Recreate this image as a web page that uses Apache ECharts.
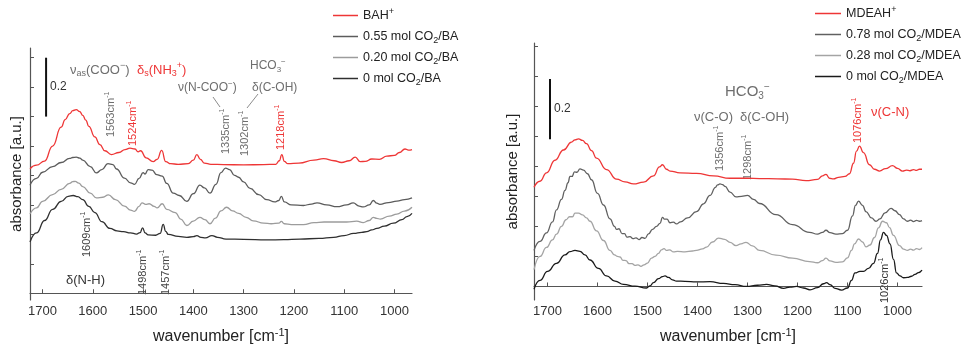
<!DOCTYPE html>
<html>
<head>
<meta charset="utf-8">
<script src="https://cdn.jsdelivr.net/npm/echarts@6/dist/echarts.min.js"></script>
<style>
  html, body { margin: 0; background: #fff; }
  #chart { width: 963px; height: 352px; }
</style>
</head>
<body>
<div id="chart"></div>
<script>
// tick positions (wavenumber and absorbance)
const xTicks = [1700, 1600, 1500, 1400, 1300, 1200, 1100, 1000];
const yTicks = [0, 0.1, 0.2, 0.3, 0.4, 0.5, 0.6, 0.7, 0.8];

// left panel: butylamine (BA) spectra, [wavenumber, absorbance]
const leftNames = ["BAH+", "0.55 mol CO2/BA", "0.20 mol CO2/BA", "0 mol CO2/BA"];
const bahSpec = [[1725,.423],[1712,.435],[1696,.449],[1680,.5],[1663,.564],[1655,.59],[1646,.61],[1640,.62],[1633,.624],[1626,.617],[1620,.604],[1614,.588],[1608,.567],[1596,.531],[1586,.505],[1576,.484],[1563,.471],[1548,.478],[1536,.488],[1526,.493],[1516,.49],[1510,.48],[1505,.484],[1494,.46],[1480,.447],[1472,.455],[1463,.485],[1455,.447],[1445,.44],[1430,.438],[1410,.44],[1400,.452],[1393,.471],[1386,.455],[1378,.442],[1365,.438],[1340,.437],[1300,.436],[1260,.437],[1236,.438],[1229,.45],[1224,.471],[1219,.448],[1212,.44],[1190,.442],[1160,.452],[1141,.457],[1120,.45],[1105,.444],[1090,.45],[1078,.462],[1068,.447],[1058,.448],[1045,.456],[1030,.455],[1015,.466],[1000,.468],[990,.478],[979,.49],[972,.486],[965,.488]];
const ba055Spec = [[1725,.367],[1712,.39],[1700,.411],[1680,.43],[1663,.444],[1646,.458],[1640,.461],[1633,.462],[1626,.459],[1620,.452],[1605,.43],[1593,.409],[1582,.42],[1570,.44],[1560,.437],[1553,.422],[1537,.391],[1525,.375],[1517,.37],[1508,.39],[1500,.41],[1496,.405],[1490,.42],[1482,.418],[1473,.403],[1462,.398],[1453,.373],[1440,.34],[1428,.332],[1413,.312],[1400,.338],[1387,.367],[1378,.358],[1367,.34],[1355,.37],[1345,.41],[1336,.425],[1328,.42],[1318,.4],[1310,.394],[1300,.378],[1287,.356],[1270,.335],[1254,.318],[1238,.31],[1230,.315],[1225,.329],[1219,.31],[1205,.3],[1181,.298],[1165,.303],[1154,.307],[1135,.3],[1114,.294],[1095,.3],[1082,.307],[1070,.296],[1062,.293],[1050,.3],[1042,.315],[1035,.306],[1029,.302],[1012,.308],[995,.313],[980,.318],[965,.324]];
const ba020Spec = [[1725,.269],[1712,.29],[1700,.312],[1680,.335],[1663,.353],[1646,.373],[1640,.379],[1635,.38],[1628,.374],[1620,.362],[1605,.34],[1593,.324],[1580,.326],[1569,.334],[1555,.318],[1537,.296],[1525,.282],[1517,.278],[1508,.295],[1502,.307],[1495,.302],[1488,.304],[1478,.295],[1472,.29],[1462,.304],[1453,.285],[1436,.274],[1425,.252],[1413,.23],[1400,.245],[1387,.258],[1377,.25],[1367,.236],[1356,.255],[1345,.28],[1334,.292],[1322,.28],[1310,.271],[1295,.258],[1281,.246],[1260,.238],[1245,.236],[1230,.238],[1225,.244],[1219,.236],[1205,.233],[1181,.233],[1160,.24],[1140,.242],[1115,.242],[1095,.242],[1075,.245],[1062,.24],[1050,.247],[1042,.258],[1035,.254],[1028,.252],[1010,.262],[995,.269],[980,.279],[965,.292]];
const ba0Spec = [[1725,.174],[1712,.205],[1696,.247],[1680,.285],[1663,.312],[1649,.329],[1639,.332],[1630,.328],[1620,.318],[1608,.295],[1596,.274],[1582,.243],[1566,.22],[1552,.212],[1539,.209],[1525,.205],[1513,.201],[1506,.206],[1501,.222],[1496,.205],[1490,.198],[1475,.197],[1466,.203],[1460,.234],[1455,.21],[1450,.2],[1430,.193],[1413,.19],[1400,.192],[1393,.196],[1385,.19],[1376,.188],[1363,.196],[1352,.19],[1335,.184],[1300,.183],[1254,.181],[1220,.182],[1188,.184],[1150,.186],[1121,.19],[1100,.196],[1081,.203],[1065,.207],[1055,.209],[1045,.215],[1035,.22],[1020,.228],[1002,.238],[985,.25],[975,.26],[965,.271]];

// right panel: MDEA spectra
const rightNames = ["MDEAH+", "0.78 mol CO2/MDEA", "0.28 mol CO2/MDEA", "0 mol CO2/MDEA"];
const mdeahSpec = [[1727,.33],[1715,.35],[1702,.378],[1685,.42],[1668,.454],[1652,.48],[1645,.488],[1638,.491],[1630,.486],[1622,.475],[1612,.452],[1602,.427],[1582,.389],[1562,.357],[1545,.348],[1528,.341],[1508,.347],[1488,.368],[1476,.398],[1470,.405],[1462,.39],[1455,.384],[1435,.378],[1402,.376],[1368,.368],[1335,.36],[1300,.36],[1276,.359],[1240,.358],[1210,.357],[1183,.352],[1160,.356],[1150,.368],[1143,.373],[1136,.36],[1128,.358],[1118,.363],[1105,.366],[1096,.375],[1088,.41],[1082,.45],[1076,.467],[1068,.445],[1056,.405],[1046,.39],[1036,.384],[1024,.392],[1010,.402],[1000,.393],[990,.384],[982,.387],[975,.385],[968,.389],[962,.386],[956,.39],[951,.39]];
const mdea078Spec = [[1727,.12],[1715,.15],[1702,.178],[1690,.215],[1682,.255],[1672,.29],[1665,.32],[1659,.345],[1655,.366],[1651,.366],[1646,.381],[1641,.38],[1635,.391],[1628,.387],[1620,.375],[1612,.355],[1600,.31],[1588,.271],[1575,.225],[1566,.2],[1562,.19],[1557,.192],[1551,.176],[1546,.176],[1541,.164],[1535,.166],[1529,.159],[1523,.162],[1517,.156],[1511,.163],[1505,.16],[1498,.175],[1490,.19],[1482,.2],[1475,.21],[1470,.23],[1466,.224],[1461,.224],[1455,.212],[1448,.214],[1442,.208],[1434,.215],[1420,.228],[1402,.249],[1388,.275],[1375,.303],[1364,.33],[1360,.338],[1355,.341],[1350,.339],[1345,.333],[1335,.314],[1323,.298],[1312,.3],[1300,.303],[1288,.29],[1276,.276],[1243,.239],[1210,.206],[1176,.18],[1160,.174],[1150,.18],[1143,.187],[1135,.179],[1123,.174],[1110,.176],[1100,.187],[1090,.235],[1084,.27],[1078,.284],[1070,.27],[1063,.249],[1052,.228],[1043,.217],[1035,.225],[1025,.245],[1013,.26],[1005,.252],[996,.239],[988,.225],[980,.217],[974,.221],[968,.216],[962,.22],[956,.217],[951,.219]];
const mdea028Spec = [[1727,.056],[1715,.1],[1702,.13],[1690,.155],[1682,.174],[1672,.2],[1663,.222],[1656,.232],[1650,.232],[1645,.244],[1638,.244],[1630,.238],[1622,.228],[1615,.217],[1602,.185],[1588,.153],[1575,.12],[1566,.105],[1560,.1],[1555,.098],[1549,.087],[1543,.086],[1537,.076],[1531,.076],[1525,.07],[1519,.072],[1513,.067],[1507,.072],[1500,.078],[1492,.094],[1485,.1],[1478,.11],[1472,.122],[1467,.126],[1462,.12],[1456,.122],[1448,.115],[1440,.117],[1425,.115],[1410,.118],[1402,.12],[1390,.125],[1382,.131],[1370,.148],[1358,.161],[1346,.157],[1335,.147],[1323,.136],[1313,.142],[1303,.147],[1290,.135],[1276,.12],[1243,.104],[1210,.094],[1176,.083],[1160,.079],[1150,.086],[1143,.094],[1135,.085],[1123,.08],[1110,.082],[1100,.095],[1092,.12],[1086,.142],[1078,.158],[1070,.148],[1063,.132],[1055,.138],[1046,.163],[1038,.195],[1030,.217],[1022,.212],[1016,.196],[1008,.17],[996,.136],[988,.124],[980,.12],[974,.124],[968,.121],[962,.126],[956,.123],[951,.129]];
const mdea0Spec = [[1727,-.009],[1715,.02],[1700,.05],[1682,.077],[1665,.105],[1655,.116],[1645,.12],[1635,.117],[1625,.105],[1615,.088],[1598,.06],[1582,.035],[1565,.018],[1548,.007],[1525,.001],[1502,-.005],[1495,.002],[1488,.013],[1478,.026],[1470,.033],[1465,.035],[1458,.03],[1450,.022],[1442,.018],[1425,.017],[1402,.015],[1375,.016],[1348,.01],[1325,.006],[1302,0],[1280,.004],[1262,.007],[1245,.002],[1228,-.006],[1215,-.002],[1202,0],[1188,-.005],[1175,-.011],[1160,-.004],[1148,.009],[1142,.013],[1135,.006],[1125,-.006],[1112,-.012],[1100,-.005],[1092,.02],[1085,.045],[1075,.05],[1068,.05],[1058,.06],[1048,.077],[1040,.11],[1034,.155],[1028,.18],[1022,.17],[1015,.142],[1008,.09],[1002,.045],[995,.035],[988,.029],[980,.03],[972,.034],[965,.04],[958,.046],[951,.054]];

const FONT = '"Liberation Sans", Arial, Helvetica, sans-serif';
const RED = "#ee3636";
const NOTE = "#6e6e6e";

function richFor(size) {
  const s = Math.round(size * 0.68);
  return {
    sub: { fontSize: s, fontFamily: FONT, verticalAlign: "bottom", lineHeight: s + 1 },
    sup: { fontSize: s, fontFamily: FONT, verticalAlign: "top", lineHeight: s + 1 },
  };
}

function fmtName(name) {
  return name.replace("CO2", "CO{sub|2}").replace(/H\+$/, "H{sup|+}");
}

function axisX(grid, min, max) {
  return {
    type: "value", gridIndex: grid, min: min, max: max, inverse: true,
    axisLine: { show: true, lineStyle: { color: "#555", width: 1.2 } },
    axisTick: { show: true, inside: true, length: 4, customValues: xTicks, lineStyle: { color: "#555" } },
    axisLabel: {
      customValues: xTicks, color: "#333", fontSize: 13, margin: 5, fontFamily: FONT,
      formatter: function (v) { return String(v); },
    },
    splitLine: { show: false },
    name: "wavenumber [cm{sup|-1}]", nameLocation: "middle", nameGap: 27,
    nameTextStyle: { fontSize: 16, color: "#222", fontFamily: FONT, lineHeight: 20, rich: richFor(16) },
  };
}

function axisY(grid, min, max, gap) {
  return {
    type: "value", gridIndex: grid, min: min, max: max,
    axisLine: { show: true, lineStyle: { color: "#555", width: 1.2 } },
    axisTick: { show: true, inside: true, length: 4, customValues: yTicks, lineStyle: { color: "#555" } },
    axisLabel: { show: false },
    splitLine: { show: false },
    name: "absorbance [a.u.]", nameLocation: "middle", nameRotate: 90, nameGap: gap,
    nameTextStyle: { fontSize: 15, color: "#222", fontFamily: FONT },
  };
}

function line(name, data, idx, color) {
  return {
    name: name, type: "line", xAxisIndex: idx, yAxisIndex: idx, data: data,
    symbol: "none", smooth: 0.5, smoothMonotone: "x",
    lineStyle: { color: color, width: 1.3 }, itemStyle: { color: color },
  };
}

function legendAt(names, left, top, width) {
  return {
    data: names, left: left, top: top, orient: "vertical", icon: "rect", padding: 0,
    itemWidth: width, itemHeight: 1.5, itemGap: 4, selectedMode: false,
    formatter: fmtName,
    textStyle: { fontSize: 12.5, color: "#222", fontFamily: FONT, lineHeight: 17, rich: richFor(13) },
  };
}

const chart = echarts.init(document.getElementById("chart"));

chart.setOption({
  animation: false,
  backgroundColor: "#fff",
  textStyle: { fontFamily: FONT },
  grid: [
    { left: 30, top: 48, width: 382, height: 261 },
    { left: 534, top: 43, width: 388, height: 265 },
  ],
  xAxis: [axisX(0, 965, 1725), axisX(1, 951, 1727)],
  yAxis: [axisY(0, -0.023, 0.833, 6), axisY(1, -0.045, 0.81, 14)],
  legend: [legendAt(leftNames, 333, 7, 25), legendAt(rightNames, 815, 5, 26)],
  series: [
    line(leftNames[0], bahSpec, 0, RED),
    line(leftNames[1], ba055Spec, 0, "#5c5c5c"),
    line(leftNames[2], ba020Spec, 0, "#9c9c9c"),
    line(leftNames[3], ba0Spec, 0, "#303030"),
    line(rightNames[0], mdeahSpec, 1, RED),
    line(rightNames[1], mdea078Spec, 1, "#606060"),
    line(rightNames[2], mdea028Spec, 1, "#a4a4a4"),
    line(rightNames[3], mdea0Spec, 1, "#1a1a1a"),
  ],
});

// annotations: [text, x, y, colour, size, rotated]
const notes = [
  ["ν{sub|as}(COO{sup|−})", 70, 70, NOTE, 13, false],
  ["δ{sub|s}(NH{sub|3}{sup|+})", 137, 70, RED, 13, false],
  ["ν(N-COO{sup|−})", 178, 88, NOTE, 12, false],
  ["HCO{sub|3}{sup|−}", 250, 66, NOTE, 12, false],
  ["δ(C-OH)", 252, 88, NOTE, 12, false],
  ["1563cm{sup|-1}", 111, 137, NOTE, 11, true],
  ["1524cm{sup|-1}", 133, 146, RED, 11, true],
  ["1335cm{sup|-1}", 226, 154, NOTE, 11, true],
  ["1302cm{sup|-1}", 245, 156, NOTE, 11, true],
  ["1218cm{sup|-1}", 281, 150, RED, 11, true],
  ["1609cm{sup|-1}", 87, 257, "#444", 11, true],
  ["1498cm{sup|-1}", 143, 295, "#444", 11, true],
  ["1457cm{sup|-1}", 166, 295, "#444", 11, true],
  ["δ(N-H)", 66, 280, "#333", 13, false],
  ["HCO{sub|3}{sup|−}", 725, 92, NOTE, 15, false],
  ["ν(C-O)", 694, 117, NOTE, 13, false],
  ["δ(C-OH)", 740, 117, NOTE, 13, false],
  ["1356cm{sup|-1}", 720, 171, NOTE, 11, true],
  ["1298cm{sup|-1}", 748, 180, NOTE, 11, true],
  ["1076cm{sup|-1}", 858, 143, RED, 11, true],
  ["ν(C-N)", 871, 112, RED, 13, false],
  ["1026cm{sup|-1}", 885, 303, "#333", 11, true],
];

const elements = notes.map(function (n) {
  return {
    type: "text", x: n[1], y: n[2], rotation: n[5] ? Math.PI / 2 : 0, silent: true,
    style: {
      text: n[0], fill: n[3], fontSize: n[4], fontFamily: FONT, lineHeight: n[4] + 4,
      align: "left", verticalAlign: "middle", rich: richFor(n[4]),
    },
  };
});

// leader lines to the HCO3 / N-COO labels
elements.push({ type: "line", silent: true, shape: { x1: 213, y1: 97, x2: 220, y2: 107 }, style: { stroke: NOTE, lineWidth: 0.8 } });
elements.push({ type: "line", silent: true, shape: { x1: 258, y1: 94, x2: 247, y2: 108 }, style: { stroke: NOTE, lineWidth: 0.8 } });

// 0.2 absorbance scale bars, drawn through each panel's y scale
function scaleBar(grid, wn, from) {
  const a = chart.convertToPixel({ gridIndex: grid }, [wn, from]);
  const b = chart.convertToPixel({ gridIndex: grid }, [wn, from + 0.2]);
  elements.push({ type: "line", silent: true, shape: { x1: a[0], y1: a[1], x2: b[0], y2: b[1] }, style: { stroke: "#111", lineWidth: 2 } });
  elements.push({
    type: "text", silent: true, x: a[0] + 4, y: (a[1] + b[1]) / 2,
    style: { text: "0.2", fill: "#333", fontSize: 12, fontFamily: FONT, align: "left", verticalAlign: "middle" },
  });
}
scaleBar(0, 1693, 0.6);
scaleBar(1, 1695, 0.49);

chart.setOption({ graphic: { elements: elements } });
</script>
</body>
</html>
